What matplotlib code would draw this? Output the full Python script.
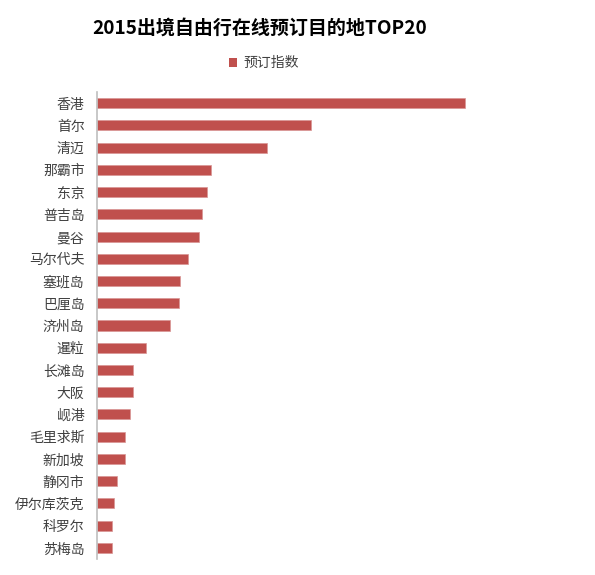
import numpy as np
import matplotlib.pyplot as plt
from matplotlib.patches import Patch

plt.rcParams['font.family'] = ['Noto Sans CJK SC', 'DejaVu Sans']

cities = ['香港', '首尔', '清迈', '那霸市', '东京', '普吉岛', '曼谷', '马尔代夫', '塞班岛', '巴厘岛',
          '济州岛', '暹粒', '长滩岛', '大阪', '岘港', '毛里求斯', '新加坡', '静冈市', '伊尔库茨克',
          '科罗尔', '苏梅岛']
index_vals = [367, 214, 170, 114, 110, 105, 102, 91, 83, 82,
              73, 49, 36, 36, 33, 28, 28, 20, 17, 15, 15]

fig = plt.figure(figsize=(5.95, 5.75), dpi=100)
ax = fig.add_axes([97/595, 1 - 559/575, (575 - 97)/595, (559 - 92)/575])

y = np.arange(len(cities))
ax.barh(y, index_vals, height=0.45, color='#C0504D', edgecolor='#D99594', linewidth=0.5)
ax.set_ylim(len(cities) - 0.5, -0.5)
ax.set_xlim(0, 477)
ax.set_yticks(y)
ax.set_yticklabels(cities, fontsize=10, color='#404040')
ax.tick_params(axis='y', length=0, pad=9)
ax.set_xticks([])
for s in ['top', 'right', 'bottom']:
    ax.spines[s].set_visible(False)
ax.spines['left'].set_color('#BFBFBF')
ax.spines['left'].set_linewidth(1.2)

fig.text(260/595, 1 - 28/575, '2015出境自由行在线预订目的地TOP20', ha='center', va='center',
         fontsize=13.7, fontweight='bold', color='black')
fig.legend(handles=[Patch(facecolor='#C0504D', label='预订指数')], loc='center',
           bbox_to_anchor=(264/595, 1 - 63/575), frameon=False, fontsize=10,
           handlelength=0.6, handleheight=0.6, handletextpad=0.5, labelcolor='#404040')

fig.savefig('out.png', dpi=100)
